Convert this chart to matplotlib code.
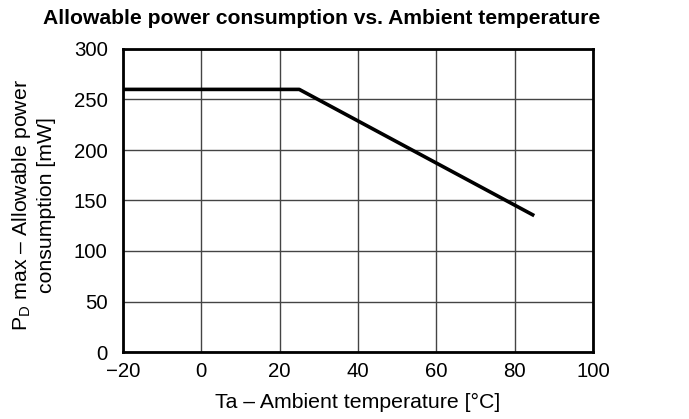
import matplotlib.pyplot as plt

plt.rcParams['font.family'] = ['Liberation Sans', 'DejaVu Sans']
plt.rcParams['mathtext.fontset'] = 'custom'
plt.rcParams['mathtext.rm'] = 'Liberation Sans'

# derating curve
temp = [-20, 25, 85]
power = [260, 260, 135]

x_ticks = [-20, 0, 20, 40, 60, 80, 100]
x_tick_labels = ['\u221220', '0', '20', '40', '60', '80', '100']
y_ticks = [0, 50, 100, 150, 200, 250, 300]

fig = plt.figure(figsize=(6.89, 4.19), dpi=100)
# axes box: x 123..593 px, y 49..352 px
ax = fig.add_axes([123 / 689, 1 - 352 / 419, 470 / 689, 303 / 419])

ax.plot(temp, power, color='black', lw=2.6, solid_capstyle='butt')

ax.set_xlim(-20, 100)
ax.set_ylim(0, 300)
ax.set_xticks(x_ticks)
ax.set_xticklabels(x_tick_labels)
ax.set_yticks(y_ticks)
ax.grid(True, color='#444444', lw=1)
ax.tick_params(length=0, labelsize=14.7)
ax.tick_params(axis='y', pad=11)
ax.tick_params(axis='x', pad=7.5)
for s in ax.spines.values():
    s.set_linewidth(2)
    s.set_color('black')

fig.text(358 / 689, 1 - 402 / 419, 'Ta \u2013 Ambient temperature [\u00b0C]',
         ha='center', va='center', fontsize=15.3)
fig.text(33 / 689, 1 - 205 / 419,
         'P$_{\\mathrm{D}}$ max \u2013 Allowable power\nconsumption [mW]',
         ha='center', va='center', rotation=90, fontsize=15.3,
         multialignment='center', linespacing=1.25)

fig.text(322 / 689, 1 - 18 / 419, 'Allowable power consumption vs. Ambient temperature',
         ha='center', va='center', fontsize=15.2, fontweight='bold')

fig.savefig('out.png', dpi=100)
